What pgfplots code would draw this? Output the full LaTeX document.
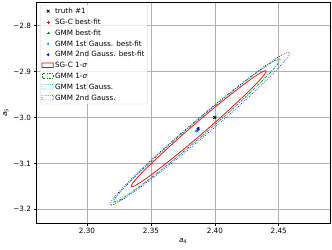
\documentclass[border=0pt]{standalone}
\usepackage{pgfplots}
\pgfplotsset{compat=1.18}
\usepackage{fontspec}
\setmainfont{DejaVu Sans}
\definecolor{mplgreen}{rgb}{0,0.5,0}
\definecolor{gridgray}{HTML}{B0B0B0}
\begin{document}
\begin{tikzpicture}
\begin{axis}[
 width=408pt, height=306.7pt, scale only axis,
 xmin=2.2601, xmax=2.4901, ymin=-3.2298, ymax=-2.7484,
 xtick={2.30,2.35,2.40,2.45}, xticklabels={2.30,2.35,2.40,2.45},
 ytick={-3.2,-3.1,-3.0,-2.9,-2.8}, yticklabels={−3.2,−3.1,−3.0,−2.9,−2.8},
 tick align=outside, major tick length=3.5pt, tick pos=left,
 grid=major, major grid style={gridgray, line width=0.8pt},
 axis line style={line width=0.8pt},
 every tick/.style={black, line width=0.8pt},
 tick label style={font=\fontsize{10}{12}\selectfont},
 label style={font=\fontsize{10}{12}\selectfont},
 xlabel={\textit{a}\textsubscript{4}}, ylabel={\textit{a}\textsubscript{5}},
 legend style={at={(0.0137,0.987)}, anchor=north west, draw=black!20, rounded corners=2pt,
   fill=white, fill opacity=0.8, text opacity=1, font=\fontsize{10}{12}\selectfont,
   inner sep=2pt, row sep=2pt},
 legend cell align=left,
]
% legend entries for markers
\addplot[only marks, mark=x, mark size=2.6pt, black, line width=1.1pt] coordinates {(2.40,-3.00)};
\addlegendentry{truth \#1}
\addplot[only marks, mark=+, mark size=2pt, red, line width=0.9pt] coordinates {(2.3870,-3.0250)};
\addlegendentry{SG-C best-fit}
\addplot[only marks, mark=+, mark size=2pt, mplgreen, line width=0.9pt] coordinates {(2.3862,-3.0275)};
\addlegendentry{GMM best-fit}
\addplot[only marks, mark=triangle*, mark size=2pt, cyan, mark options={rotate=90}] coordinates {(2.3853,-3.0294)};
\addlegendentry{GMM 1st Gauss. best-fit}
\addplot[only marks, mark=triangle*, mark size=2pt, blue, mark options={rotate=90}] coordinates {(2.3871,-3.0235)};
\addlegendentry{GMM 2nd Gauss. best-fit}
% SG-C 1-sigma
\addplot[red, line width=1pt, smooth,
  legend image code/.code={\draw[red, line width=1pt, rounded corners=0.01pt, solid, fill=white] (0cm,-0.1cm) rectangle (0.55cm,0.12cm);}] coordinates {
(2.3904,-3.0345) (2.3766,-3.0669) (2.3635,-3.0963) (2.3521,-3.1210) (2.3431,-3.1390) (2.3371,-3.1492)
(2.3345,-3.1510) (2.3355,-3.1442) (2.3400,-3.1291) (2.3478,-3.1070) (2.3583,-3.0793) (2.3707,-3.0477)
(2.3842,-3.0148) (2.3980,-2.9823) (2.4111,-2.9529) (2.4225,-2.9283) (2.4315,-2.9102) (2.4375,-2.9000)
(2.4401,-2.8982) (2.4391,-2.9050) (2.4346,-2.9201) (2.4268,-2.9423) (2.4163,-2.9699) (2.4039,-3.0015)
(2.3904,-3.0345)};
\addlegendentry{SG-C 1-\textit{σ}}
% GMM 1-sigma
\addplot[mplgreen, line width=0.9pt, dash dot, smooth,
  legend image code/.code={\draw[mplgreen, line width=0.9pt, rounded corners=0.01pt, dash dot, fill=white] (0cm,-0.1cm) rectangle (0.55cm,0.12cm);}] coordinates {
(2.3899,-3.0403) (2.3730,-3.0802) (2.3570,-3.1164) (2.3428,-3.1467) (2.3317,-3.1688) (2.3244,-3.1814)
(2.3212,-3.1835) (2.3223,-3.1749) (2.3280,-3.1564) (2.3375,-3.1292) (2.3504,-3.0951) (2.3656,-3.0563)
(2.3823,-3.0157) (2.3992,-2.9758) (2.4153,-2.9396) (2.4294,-2.9093) (2.4405,-2.8872) (2.4478,-2.8746)
(2.4511,-2.8726) (2.4499,-2.8811) (2.4442,-2.8996) (2.4347,-2.9268) (2.4219,-2.9609) (2.4066,-2.9997)
(2.3899,-3.0403)};
\addlegendentry{GMM 1-\textit{σ}}
% GMM 1st Gauss
\addplot[cyan, line width=0.9pt, dotted, smooth,
  legend image code/.code={\draw[cyan, line width=0.9pt, rounded corners=0.01pt, dotted, fill=white] (0cm,-0.1cm) rectangle (0.55cm,0.12cm);}] coordinates {
(2.3889,-3.0433) (2.3720,-3.0829) (2.3560,-3.1189) (2.3420,-3.1490) (2.3309,-3.1708) (2.3236,-3.1833)
(2.3203,-3.1852) (2.3215,-3.1767) (2.3271,-3.1581) (2.3365,-3.1308) (2.3492,-3.0968) (2.3644,-3.0582)
(2.3809,-3.0177) (2.3978,-2.9781) (2.4138,-2.9421) (2.4278,-2.9120) (2.4389,-2.8902) (2.4462,-2.8778)
(2.4495,-2.8758) (2.4483,-2.8845) (2.4427,-2.9029) (2.4333,-2.9302) (2.4206,-2.9643) (2.4054,-3.0028)
(2.3889,-3.0433)};
\addlegendentry{GMM 1st Gauss.}
% GMM 2nd Gauss
\addplot[blue, line width=0.9pt, dotted, smooth,
  legend image code/.code={\draw[blue, line width=0.9pt, rounded corners=0.01pt, dotted, fill=white] (0cm,-0.1cm) rectangle (0.55cm,0.12cm);}] coordinates {
(2.3926,-3.0388) (2.3744,-3.0814) (2.3569,-3.1200) (2.3417,-3.1521) (2.3297,-3.1755) (2.3216,-3.1886)
(2.3181,-3.1906) (2.3193,-3.1813) (2.3252,-3.1612) (2.3355,-3.1318) (2.3493,-3.0951) (2.3657,-3.0536)
(2.3838,-3.0102) (2.4020,-2.9676) (2.4195,-2.9290) (2.4347,-2.8969) (2.4467,-2.8735) (2.4548,-2.8604)
(2.4584,-2.8584) (2.4571,-2.8677) (2.4512,-2.8878) (2.4409,-2.9172) (2.4271,-2.9539) (2.4107,-2.9954)
(2.3926,-3.0388)};
\addlegendentry{GMM 2nd Gauss.}
% markers on top
\addplot[only marks, mark=x, mark size=2.6pt, black, line width=1.1pt, forget plot] coordinates {(2.40,-3.00)};
\addplot[only marks, mark=+, mark size=2pt, red, line width=0.9pt, forget plot] coordinates {(2.3870,-3.0250)};
\addplot[only marks, mark=+, mark size=2pt, mplgreen, line width=0.9pt, forget plot] coordinates {(2.3862,-3.0275)};
\addplot[only marks, mark=triangle*, mark size=2pt, cyan, mark options={rotate=90}, forget plot] coordinates {(2.3853,-3.0294)};
\addplot[only marks, mark=triangle*, mark size=2pt, blue, mark options={rotate=90}, forget plot] coordinates {(2.3871,-3.0235)};
\end{axis}
\path (current axis.south west) ++(-50pt,-36.1pt) coordinate (bba);
\path (current axis.north east) ++(2.8pt,2.8pt) coordinate (bbb);
\path (bba) rectangle (bbb);
\end{tikzpicture}
\end{document}
